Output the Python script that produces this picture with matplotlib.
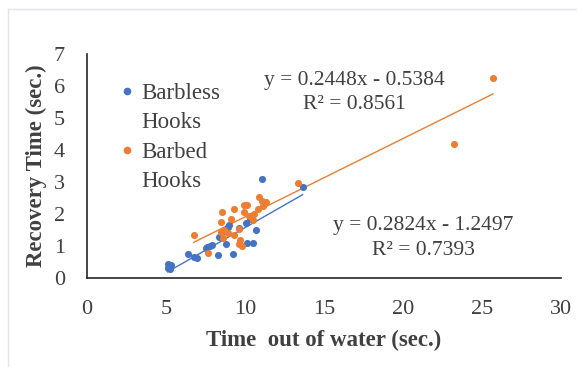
import matplotlib
matplotlib.use("Agg")
import matplotlib.pyplot as plt
from matplotlib.lines import Line2D
import numpy as np

plt.rcParams['font.family'] = ['Liberation Serif', 'DejaVu Serif']

# Barbless hooks (time out of water, recovery time)
barbless_x = [5.1, 5.2, 5.1, 5.3, 5.25, 6.4, 6.75, 6.95, 7.5, 7.6, 7.8, 7.9,
              8.3, 8.35, 8.55, 8.8, 8.9, 9.0, 9.24, 9.6, 10.05, 10.1, 10.5,
              10.7, 10.3, 11.1, 13.65]
barbless_y = [0.45, 0.35, 0.3, 0.4, 0.28, 0.75, 0.65, 0.62, 0.95, 0.97, 1.0, 1.02,
              0.73, 1.28, 1.43, 1.07, 1.6, 1.67, 0.76, 1.56, 1.71, 1.1, 1.1,
              1.5, 1.85, 3.1, 2.85]

# Barbed hooks
barbed_x = [6.75, 7.66, 8.45, 8.55, 8.5, 8.7, 8.9, 8.6, 9.1, 9.3, 9.3, 9.6,
            9.7, 9.83, 9.6, 9.94, 10.15, 9.94, 10.25, 10.5, 10.6, 10.8, 10.9,
            11.1, 11.3, 11.15, 13.33, 23.2, 25.7]
barbed_y = [1.33, 0.78, 1.74, 2.05, 1.45, 1.5, 1.4, 1.25, 1.85, 2.16, 1.33, 1.54,
            1.18, 0.99, 1.05, 2.28, 2.29, 2.05, 1.95, 1.8, 2.0, 2.16, 2.54,
            2.41, 2.36, 2.26, 2.98, 4.18, 6.25]

# Trendline coefficients (as displayed)
barbless_fit = (0.2824, -1.2497, 0.7393)
barbed_fit = (0.2448, -0.5384, 0.8561)

series_names = [('Barbless', 'Hooks'), ('Barbed', 'Hooks')]
x_ticks = [0, 5, 10, 15, 20, 25, 30]
y_ticks = [0, 1, 2, 3, 4, 5, 6, 7]

BLUE = '#4472C4'
ORANGE = '#ED7D31'
TXT = '#404040'

fig = plt.figure(figsize=(5.77, 3.67), dpi=100)
fig.patch.set_facecolor('white')
# faint chart frame
fig.add_artist(Line2D([8/577, 1], [1-9/367, 1-9/367], color='#E4E4EA', lw=1))
fig.add_artist(Line2D([8/577, 8/577], [0, 1-9/367], color='#E4E4EA', lw=1))

ax = fig.add_axes([87/577, 1-278/367, (561-87)/577, (278-54)/367])

ax.scatter(barbless_x, barbless_y, s=26, color=BLUE, zorder=3, linewidths=0)
ax.scatter(barbed_x, barbed_y, s=26, color=ORANGE, zorder=3, linewidths=0)

for xs, (m, b, r2), c in [(barbless_x, barbless_fit, BLUE), (barbed_x, barbed_fit, ORANGE)]:
    xx = np.array([min(xs), max(xs)])
    ax.plot(xx, m * xx + b, color=c, lw=1.0, zorder=2)

ax.text(16.9, 5.8, f"y = {barbed_fit[0]}x - {abs(barbed_fit[1])}\nR² = {barbed_fit[2]}",
        ha='center', va='center', fontsize=15.5, color=TXT, linespacing=1.4)
ax.text(21.3, 1.25, f"y = {barbless_fit[0]}x - {abs(barbless_fit[1])}\nR² = {barbless_fit[2]}",
        ha='center', va='center', fontsize=15.5, color=TXT, linespacing=1.4)

ax.set_xlim(0, 30)
ax.set_ylim(0, 7)
ax.set_xticks(x_ticks)
ax.set_yticks(y_ticks)
ax.tick_params(length=0, labelsize=16, labelcolor=TXT)
ax.tick_params(axis='x', pad=16)
ax.tick_params(axis='y', pad=16)
for s in ['top', 'right']:
    ax.spines[s].set_visible(False)
for s in ['left', 'bottom']:
    ax.spines[s].set_color('#262626')
    ax.spines[s].set_linewidth(1.2)

ax.set_xlabel('Time  out of water (sec.)', fontsize=16.5, fontweight='bold', color=TXT, labelpad=8)
ax.set_ylabel('Recovery Time (sec.)', fontsize=16.5, fontweight='bold', color=TXT, labelpad=5)

handles, labels = [], []
for (l1, l2), c in zip(series_names, [BLUE, ORANGE]):
    handles.append(Line2D([], [], ls='none', marker='o', ms=5.5, mfc=c, mec='none'))
    labels.append(l1)
    handles.append(Line2D([], [], ls='none', marker='none'))
    labels.append(l2)
leg = ax.legend(handles, labels, loc='upper left', bbox_to_anchor=(0.054, 0.872), frameon=False,
                fontsize=16.5, labelcolor=TXT, handletextpad=0.0, handlelength=1.25,
                labelspacing=0.37, borderaxespad=0, borderpad=0)

fig.savefig('out.png', dpi=100)
